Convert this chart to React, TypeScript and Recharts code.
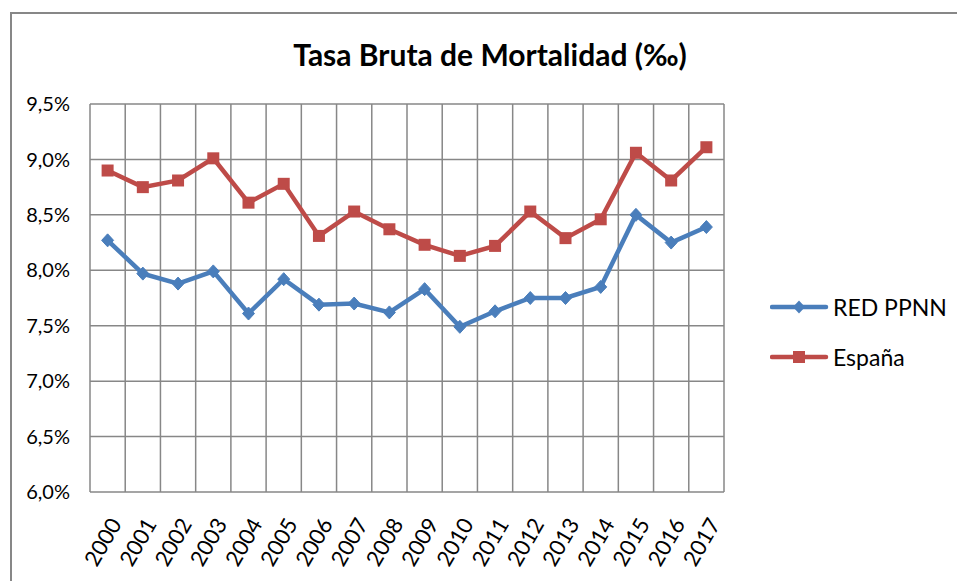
import React from 'react';
import { LineChart, Line, XAxis, YAxis, CartesianGrid } from 'recharts';

const years = [
  '2000', '2001', '2002', '2003', '2004', '2005', '2006', '2007', '2008',
  '2009', '2010', '2011', '2012', '2013', '2014', '2015', '2016', '2017',
];
const redPpnn = [
  8.27, 7.97, 7.88, 7.99, 7.61, 7.92, 7.69, 7.7, 7.62,
  7.83, 7.49, 7.63, 7.75, 7.75, 7.85, 8.5, 8.25, 8.39,
];
const espana = [
  8.9, 8.75, 8.81, 9.01, 8.61, 8.78, 8.31, 8.53, 8.37,
  8.23, 8.13, 8.22, 8.53, 8.29, 8.46, 9.06, 8.81, 9.11,
];
const yTicks = [6, 6.5, 7, 7.5, 8, 8.5, 9, 9.5];
const seriesNames = ['RED PPNN', 'España'];

const data = years.map((year, i) => ({ year, red: redPpnn[i], esp: espana[i] }));

const BLUE = '#4A7EBB';
const RED = '#BE4B48';
const GRID = '#878787';
const FONT = 'Lato, "Open Sans", sans-serif';

const fmt = (v: number) => v.toFixed(1).replace('.', ',') + '%';

function Diamond({ cx, cy }: any) {
  if (cx == null || cy == null) return null;
  return (
    <polygon
      points={`${cx},${cy - 6.5} ${cx + 6},${cy} ${cx},${cy + 6.5} ${cx - 6},${cy}`}
      fill={BLUE}
      stroke={BLUE}
    />
  );
}

function Square({ cx, cy }: any) {
  if (cx == null || cy == null) return null;
  return <rect x={cx - 6} y={cy - 6} width={12} height={12} fill={RED} />;
}

function YearTick({ x, y, payload }: any) {
  return (
    <g transform={`translate(${x + 8},${y + 20})`}>
      <text
        transform="rotate(-60)"
        textAnchor="end"
        dy="0.35em"
        fontSize={22}
        fontFamily={FONT}
        fill="#000"
      >
        {payload.value}
      </text>
    </g>
  );
}

function LegendRow({ name, color, diamond }: { name: string; color: string; diamond: boolean }) {
  return (
    <div style={{ display: 'flex', alignItems: 'center', height: 50 }}>
      <svg width={60} height={16} style={{ marginRight: 3 }}>
        <line x1={2} y1={8} x2={56} y2={8} stroke={color} strokeWidth={4.5} strokeLinecap="round" />
        {diamond ? (
          <polygon points="29,1.5 35,8 29,14.5 23,8" fill={color} />
        ) : (
          <rect x={23} y={2} width={12} height={12} fill={color} />
        )}
      </svg>
      <span>{name}</span>
    </div>
  );
}

export default function App() {
  return (
    <div
      style={{
        position: 'absolute',
        left: 0,
        top: 0,
        width: 957,
        height: 581,
        background: '#fff',
        overflow: 'hidden',
      }}
    >
      <div
        style={{
          position: 'absolute',
          left: 10,
          top: 12,
          width: 1000,
          height: 700,
          borderLeft: `2px solid ${GRID}`,
          borderTop: `2px solid ${GRID}`,
        }}
      />
      <div
        style={{
          position: 'absolute',
          left: 0,
          top: 36,
          width: 980,
          textAlign: 'center',
          fontFamily: FONT,
          fontWeight: 'bold',
          fontSize: 30,
          color: '#000',
        }}
      >
        Tasa Bruta de Mortalidad (‰)
      </div>
      <div style={{ position: 'absolute', left: 0, top: 0 }}>
        <LineChart
          width={957}
          height={581}
          data={data}
          margin={{ top: 104, right: 233, bottom: 0, left: 10 }}
        >
          <CartesianGrid
            stroke={GRID}
            strokeWidth={1.5}
            verticalCoordinatesGenerator={({ offset }: any) =>
              Array.from(
                { length: years.length + 1 },
                (_, i) => offset.left + (i * offset.width) / years.length
              )
            }
          />
          <XAxis
            dataKey="year"
            scale="band"
            interval={0}
            tickLine={false}
            axisLine={false}
            height={89}
            tick={<YearTick />}
          />
          <YAxis
            width={80}
            domain={[6, 9.5]}
            ticks={yTicks}
            tickFormatter={fmt}
            tickLine={false}
            axisLine={false}
            tickSize={0}
            tickMargin={20}
            tick={{ fontSize: 20, fontFamily: FONT, fill: '#000' }}
          />
          <Line
            name={seriesNames[0]}
            dataKey="red"
            stroke={BLUE}
            strokeWidth={4.5}
            dot={<Diamond />}
            activeDot={false}
            isAnimationActive={false}
          />
          <Line
            name={seriesNames[1]}
            dataKey="esp"
            stroke={RED}
            strokeWidth={4.5}
            dot={<Square />}
            activeDot={false}
            isAnimationActive={false}
          />
        </LineChart>
      </div>
      <div
        style={{
          position: 'absolute',
          left: 770,
          top: 282,
          fontFamily: FONT,
          fontSize: 23,
          color: '#000',
        }}
      >
        <LegendRow name={seriesNames[0]} color={BLUE} diamond />
        <LegendRow name={seriesNames[1]} color={RED} diamond={false} />
      </div>
    </div>
  );
}
